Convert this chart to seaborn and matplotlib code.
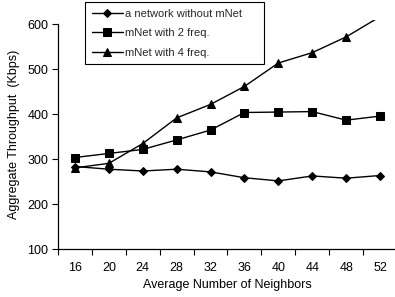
import matplotlib
matplotlib.use("Agg")
import matplotlib.pyplot as plt
import seaborn as sns
import pandas as pd
from matplotlib.ticker import MultipleLocator

sns.set_theme(style="ticks")
plt.rcParams['font.family'] = ['Liberation Sans', 'DejaVu Sans']

neighbors = [16, 20, 24, 28, 32, 36, 40, 44, 48, 52]
no_mnet = [284, 278, 274, 278, 272, 259, 252, 263, 258, 264]
mnet_2 = [304, 313, 322, 343, 365, 404, 405, 406, 387, 396]
mnet_4 = [281, 291, 335, 392, 422, 462, 514, 537, 572, 617]
labels = ["a network without mNet", "mNet with 2 freq.", "mNet with 4 freq."]
markers = ["D", "s", "^"]
msizes = [4.5, 5.2, 5.8]

y_top = 610

fig = plt.figure(figsize=(3.95, 2.97), dpi=100)
ax = fig.add_axes([58/395, 1 - 249.3/297, (397 - 58)/395, (249.3 - 19.8)/297])

for vals, lab, mk, ms in zip([no_mnet, mnet_2, mnet_4], labels, markers, msizes):
    df = pd.DataFrame({"x": neighbors, "y": vals})
    visible = [i for i, v in enumerate(vals) if v <= y_top]
    sns.lineplot(data=df, x="x", y="y", ax=ax, color="black", marker=mk,
                 markersize=ms, markeredgecolor="black", linewidth=1.0,
                 markevery=visible, label=lab, clip_on=True)

ax.set_xlim(14, 54)
ax.set_ylim(100, y_top)
ax.set_xticks(neighbors)
ax.xaxis.set_minor_locator(MultipleLocator(2))
ax.set_yticks([100, 200, 300, 400, 500, 600])
ax.tick_params(axis='both', which='major', labelsize=9, length=4, width=0.8,
               direction='out', color='black', labelcolor='black', pad=3)
ax.tick_params(axis='x', which='major', length=0, pad=9)
ax.tick_params(axis='x', which='minor', length=4, width=0.8, color='black')
for s in ['top', 'right']:
    ax.spines[s].set_visible(False)
for s in ['left', 'bottom']:
    ax.spines[s].set_color('black')
    ax.spines[s].set_linewidth(0.9)
ax.spines['left'].set_bounds(100, 600)

ax.set_xlabel("Average Number of Neighbors", fontsize=9, color='black', labelpad=4)
ax.set_ylabel("Aggregate Throughput  (Kbps)", fontsize=9, color='black', labelpad=5)

leg = ax.legend(loc='upper left',
                bbox_to_anchor=(85/395, 1 - 62/297, (264 - 85)/395, 60/297),
                bbox_transform=fig.transFigure, mode='expand', fontsize=8,
                frameon=True, fancybox=False, framealpha=1, edgecolor='black',
                handlelength=2.8, handletextpad=0.2, labelspacing=0.85,
                borderpad=0.6, borderaxespad=0)
leg.get_frame().set_linewidth(0.8)

fig.savefig("out.png", dpi=100)
